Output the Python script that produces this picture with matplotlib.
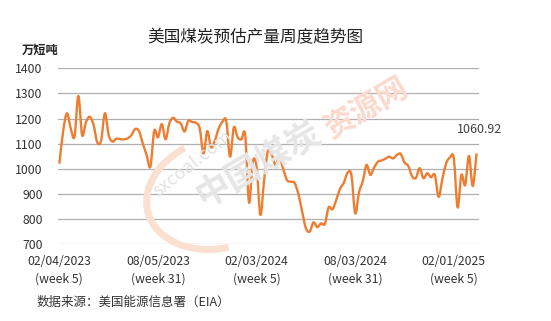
import matplotlib
matplotlib.use("Agg")
import matplotlib.pyplot as plt
import numpy as np
from matplotlib.patches import Arc, PathPatch
from matplotlib.path import Path

plt.rcParams['font.family'] = ['Noto Sans CJK SC', 'DejaVu Sans']

title = "美国煤炭预估产量周度趋势图"
unit = "万短吨"
source = "数据来源：美国能源信息署（EIA）"

# weekly estimated output, 10k short tons (week 5 2023 -> week 11 2025)
output = [
    1020, 1150, 1221, 1160, 1128, 1290, 1134, 1185, 1207, 1175,
    1105, 1112, 1221, 1134, 1108, 1120, 1118, 1117, 1121, 1134,
    1158, 1150, 1100, 1055, 1008, 1151, 1125, 1178, 1117, 1181,
    1203, 1187, 1181, 1148, 1191, 1186, 1183, 1161, 1061, 1150,
    1085, 1112, 1160, 1187, 1191, 1048, 1165, 1125, 1117, 1134,
    865, 1028, 1008, 816, 955, 1072, 1055, 1015, 1045, 1000,
    955, 948, 944, 900, 830, 763, 749, 786, 767, 782,
    780, 846, 838, 875, 920, 944, 984, 975, 822, 905,
    950, 1015, 975, 1005, 1028, 1033, 1040, 1048, 1041, 1055,
    1059, 1025, 1011, 970, 963, 1002, 962, 982, 966, 975,
    888, 960, 1022, 1045, 1041, 846, 975, 935, 1051, 931,
    1060.92,
]
tick_pos = [0, 26, 52, 78, 104]
tick_labels = ["02/04/2023\n(week 5)", "08/05/2023\n(week 31)", "02/03/2024\n(week 5)",
               "08/03/2024\n(week 31)", "02/01/2025\n(week 5)"]
y_ticks = [700, 800, 900, 1000, 1100, 1200, 1300, 1400]


def smooth_path(xs, ys):
    # smoothed line like excel: bezier segments through every point
    p = np.column_stack([xs, ys]).astype(float)
    n = len(p)
    verts = [p[0]]
    codes = [Path.MOVETO]
    for i in range(n - 1):
        prev = p[i - 1] if i > 0 else p[i]
        nxt = p[i + 2] if i + 2 < n else p[i + 1]
        c1 = p[i] + (p[i + 1] - prev) / 6
        c2 = p[i + 1] - (nxt - p[i]) / 6
        verts += [c1, c2, p[i + 1]]
        codes += [Path.CURVE4] * 3
    return Path(verts, codes)


fig = plt.figure(figsize=(5.51, 3.21), dpi=100)
ax = fig.add_axes([0.105, 0.24, 0.764, 0.547])

# faint watermark
fig.text(0.35, 0.49, "sxcoal.com", rotation=38, fontsize=13, color="#e3e3e3",
         ha="center", va="center")
fig.text(0.47, 0.49, "中国煤炭", rotation=30, fontsize=25, color="#e6e6e6",
         ha="center", va="center", fontweight="bold")
fig.text(0.665, 0.665, "资源网", rotation=30, fontsize=22, color="#fbd9cc",
         ha="center", va="center", fontweight="bold")
arc = Arc((0.40, 0.40), 0.26, 0.36, angle=-15, theta1=130, theta2=290,
          transform=fig.transFigure, color="#fbe0d2", lw=5)
fig.add_artist(arc)

x = list(range(len(output)))
ax.add_patch(PathPatch(smooth_path(x, output), fill=False, edgecolor="#ED7D31",
                       lw=1.7, joinstyle="round", zorder=3))

ax.set_xlim(-0.4, 110.6)
ax.set_ylim(700, 1400)
ax.set_yticks(y_ticks)
ax.set_xticks(tick_pos)
ax.set_xticklabels(tick_labels, linespacing=1.4)
ax.yaxis.grid(True, color="#b0b0b0", lw=0.9)
ax.set_axisbelow(True)
for s in ax.spines.values():
    s.set_visible(False)
ax.tick_params(axis="both", length=0, labelsize=8.8, colors="#333333")
ax.tick_params(axis="y", pad=11)
ax.tick_params(axis="x", pad=8)
ax.patch.set_alpha(0)

ax.annotate(f"{output[-1]:.2f}", (x[-1], output[-1]), xytext=(2, 17),
            textcoords="offset points", ha="center", va="center",
            fontsize=9, color="#404040")

fig.text(255 / 551, 1 - 38 / 321, title, ha="center", va="center", fontsize=12,
         color="#222222")
fig.text(22 / 551, 1 - 50 / 321, unit, ha="left", va="center", fontsize=8.8,
         fontweight="bold", color="#222222")
fig.text(37 / 551, 1 - 302 / 321, source, ha="left", va="center", fontsize=9,
         color="#333333")

fig.savefig("out.png", dpi=100)
